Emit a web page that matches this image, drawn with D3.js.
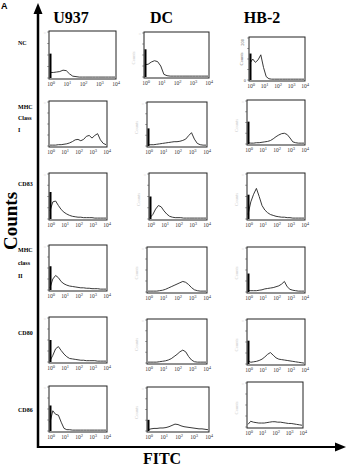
<!DOCTYPE html>
<html>
<head>
<meta charset="utf-8">
<script src="https://cdn.jsdelivr.net/npm/d3@7/dist/d3.min.js"></script>
<style>
  body { margin: 0; background: #fff; }
  svg text { font-family: "Liberation Serif", "Times New Roman", serif; }
</style>
</head>
<body>
<div id="chart"></div>
<script>
//////////////////////////////////////////////////////////////////////////////
// Data (counts in % of the panel height)

var cellLines = ["U937", "DC", "HB-2"];
var markers   = ["NC", "MHC Class I", "CD83", "MHC class II", "CD80", "CD86"];
var markerLines = [["NC"], ["MHC", "Class", "I"], ["CD83"], ["MHC", "class", "II"], ["CD80"], ["CD86"]];
var decades   = [0, 1, 2, 3, 4];
var channels  = [0, 0.2, 0.4, 0.6, 0.8, 1.0, 1.2, 1.4, 1.6, 1.8, 2.0,
                 2.2, 2.4, 2.6, 2.8, 3.0, 3.2, 3.4, 3.6, 3.8, 4.0];

// one array per marker, one row per cell line (U937, DC, HB-2)
var ncCounts = [
  [12, 12, 13, 14, 17, 16, 9, 4, 3, 2, 2, 2, 2, 2, 2, 2, 2, 2, 2, 2, 2],
  [28, 29, 34, 37, 35, 25, 6, 3, 2, 2, 2, 2, 2, 2, 2, 2, 2, 2, 2, 2, 2],
  [40, 50, 42, 48, 60, 30, 8, 3, 2, 2, 2, 2, 2, 2, 2, 2, 2, 2, 2, 2, 2]
];
var mhc1Counts = [
  [2, 2, 2, 3, 3, 4, 5, 7, 10, 14, 15, 12, 15, 22, 24, 18, 24, 28, 14, 6, 3],
  [3, 3, 3, 4, 5, 6, 7, 8, 9, 10, 10, 11, 13, 16, 24, 31, 16, 6, 3, 2, 2],
  [3, 2, 2, 3, 3, 4, 5, 6, 8, 12, 17, 21, 24, 25, 22, 14, 5, 3, 2, 2, 2]
];
var cd83Counts = [
  [18, 38, 40, 30, 21, 15, 11, 8, 6, 5, 4, 4, 3, 3, 3, 3, 2, 2, 2, 2, 2],
  [3, 10, 22, 30, 27, 18, 11, 6, 4, 3, 3, 3, 2, 2, 2, 2, 2, 2, 2, 2, 2],
  [10, 38, 55, 68, 50, 30, 20, 14, 10, 8, 6, 5, 4, 4, 3, 3, 2, 2, 2, 2, 2]
];
var mhc2Counts = [
  [5, 25, 33, 28, 19, 14, 11, 9, 8, 7, 6, 5, 5, 4, 4, 3, 3, 3, 2, 2, 2],
  [2, 2, 2, 2, 3, 4, 6, 9, 12, 15, 18, 21, 24, 22, 17, 10, 5, 3, 2, 2, 2],
  [4, 3, 3, 3, 4, 5, 7, 8, 9, 10, 12, 14, 18, 24, 12, 6, 4, 3, 2, 2, 2]
];
var cd80Counts = [
  [3, 15, 30, 35, 26, 18, 12, 8, 7, 6, 5, 4, 4, 3, 3, 3, 3, 2, 2, 2, 2],
  [2, 2, 2, 2, 3, 4, 5, 7, 10, 15, 20, 26, 30, 26, 15, 7, 3, 2, 2, 2, 2],
  [8, 4, 5, 6, 8, 11, 16, 22, 26, 20, 14, 11, 10, 9, 8, 7, 6, 5, 4, 3, 2]
];
var cd86Counts = [
  [20, 46, 38, 36, 20, 6, 3, 3, 2, 2, 2, 2, 2, 2, 2, 2, 2, 2, 2, 2, 2],
  [3, 5, 6, 6, 7, 7, 8, 10, 13, 16, 15, 12, 10, 9, 8, 7, 6, 5, 5, 4, 3],
  [6, 13, 11, 10, 9, 9, 9, 10, 11, 12, 12, 11, 11, 10, 9, 8, 8, 7, 6, 5, 4]
];
var countsByMarker = [ncCounts, mhc1Counts, cd83Counts, mhc2Counts, cd80Counts, cd86Counts];

// height of the first-channel spike, per marker and cell line (0 = none)
var spikeHeights = [
  [53, 63, 63],
  [0, 41, 52],
  [60, 50, 54],
  [54, 0, 42],
  [50, 0, 53],
  [58, 26, 0]
];

//////////////////////////////////////////////////////////////////////////////
// Layout

var width = 349, height = 466;

// panel frames [x0, y0, x1, y1], per marker row, per cell line
var frames = [
  [[49, 31, 116, 79], [144, 32, 209, 78], [249, 37, 305, 81]],
  [[49, 101, 107, 147], [147, 102, 207, 147], [247, 100, 305, 145]],
  [[49, 173, 107, 220], [149, 173, 207, 220], [247, 173, 305, 220]],
  [[49, 245, 107, 291], [147, 247, 207, 293], [247, 247, 305, 293]],
  [[49, 317, 107, 363], [147, 319, 207, 364], [247, 319, 305, 365]],
  [[49, 386, 107, 432], [147, 387, 209, 432], [247, 382, 303, 428]]
];
var titleX = [71, 161.5, 262];
var labelY = [[45], [109, 120, 132], [186], [252, 265, 278], [335], [412]];

var svg = d3.select("#chart")
    .append("svg")
    .attr("width", width)
    .attr("height", height);

// big axes with arrows
var axisX = 38, axisY = 447;
svg.append("line")
    .attr("x1", axisX).attr("y1", 11)
    .attr("x2", axisX).attr("y2", axisY + 1)
    .attr("stroke", "#000").attr("stroke-width", 2.5);
svg.append("path")
    .attr("d", "M" + axisX + ",3 L" + (axisX - 4.5) + ",14 L" + (axisX + 4.5) + ",14 Z")
    .attr("fill", "#000");
svg.append("line")
    .attr("x1", axisX - 1).attr("y1", axisY)
    .attr("x2", 337).attr("y2", axisY)
    .attr("stroke", "#000").attr("stroke-width", 2.2);
svg.append("path")
    .attr("d", "M346," + axisY + " L335," + (axisY - 4.5) + " L335," + (axisY + 4.5) + " Z")
    .attr("fill", "#000");

svg.append("text")
    .attr("x", 1).attr("y", 9)
    .style("font-family", "Liberation Sans, Arial, sans-serif")
    .attr("font-size", 9).attr("font-weight", "bold")
    .text("A");

svg.append("text")
    .attr("transform", "translate(17,221) rotate(-90)")
    .attr("text-anchor", "middle")
    .attr("font-size", 19).attr("font-weight", "bold")
    .text("Counts");

svg.append("text")
    .attr("x", 162).attr("y", 464)
    .attr("text-anchor", "middle")
    .attr("font-size", 16).attr("font-weight", "bold")
    .text("FITC");

svg.selectAll(".col-title")
    .data(cellLines)
    .enter()
    .append("text")
    .attr("class", "col-title")
    .attr("x", function(d, i) { return titleX[i]; })
    .attr("y", 23)
    .attr("text-anchor", "middle")
    .attr("font-size", 16).attr("font-weight", "bold")
    .text(function(d) { return d; });

// row labels
markerLines.forEach(function(lines, r) {
    svg.append("g")
        .selectAll("text")
        .data(lines)
        .enter()
        .append("text")
        .attr("x", 18)
        .attr("y", function(d, k) { return labelY[r][k]; })
        .attr("font-size", 6).attr("font-weight", "bold")
        .text(function(d) { return d; });
});

//////////////////////////////////////////////////////////////////////////////
// Histogram panels

function drawPanel(g, box, counts, spike, r, c) {
    var x0 = box[0], y0 = box[1], x1 = box[2], y1 = box[3];
    var x = d3.scaleLinear().domain([0, 4]).range([x0 + 1, x1 - 1]);
    var y = d3.scaleLinear().domain([0, 100]).range([y1 - 1, y0 + 1]);

    // faint count ticks on the left edge
    var yTicks = [0, 25, 50, 75, 100];
    g.selectAll(".ytick")
        .data(yTicks)
        .enter()
        .append("line")
        .attr("x1", x0 - 2).attr("x2", x0)
        .attr("y1", function(d) { return y(d); })
        .attr("y2", function(d) { return y(d); })
        .attr("stroke", "#888").attr("stroke-width", 0.7);

    if (r === 0 && c === 2) {
        g.append("text").attr("x", x0 - 3).attr("y", y0 + 4)
            .attr("text-anchor", "end").attr("font-size", 4.5).attr("fill", "#555")
            .attr("transform", "rotate(-90," + (x0 - 5) + "," + (y0 + 4) + ")")
            .text("200");
        g.append("text").attr("x", x0 - 3).attr("y", y1 + 1)
            .attr("text-anchor", "end").attr("font-size", 4.5).attr("fill", "#555")
            .text("0");
        g.append("text")
            .attr("transform", "translate(" + (x0 - 6) + "," + ((y0 + y1) / 2) + ") rotate(-90)")
            .attr("text-anchor", "middle").attr("font-size", 4.5).attr("fill", "#777")
            .text("Counts");
    } else if (c > 0) {
        g.append("text")
            .attr("transform", "translate(" + (x0 - 9) + "," + ((y0 + y1) / 2 + 3) + ") rotate(-90)")
            .attr("text-anchor", "middle").attr("font-size", 4.5).attr("fill", "#ccc")
            .text("Counts");
        g.append("text").attr("x", x0 - 3).attr("y", y0 + 3)
            .attr("text-anchor", "end").attr("font-size", 4).attr("fill", "#bbb")
            .text("::");
    } else {
        g.append("text").attr("x", x0 - 3).attr("y", y0 + 3)
            .attr("text-anchor", "end").attr("font-size", 4).attr("fill", "#bbb")
            .text("::");
    }

    g.append("rect")
        .attr("x", x0).attr("y", y0)
        .attr("width", x1 - x0).attr("height", y1 - y0)
        .attr("fill", "none")
        .attr("stroke", "#222").attr("stroke-width", 1);

    var line = d3.line()
        .x(function(d, i) { return x(channels[i]); })
        .y(function(d) { return y(d); });

    g.append("path")
        .datum(counts)
        .attr("d", line)
        .attr("fill", "none")
        .attr("stroke", "#222")
        .attr("stroke-width", 0.9);

    if (spike > 0) {
        g.append("line")
            .attr("x1", x(0) + 0.5).attr("x2", x(0) + 0.5)
            .attr("y1", y(0)).attr("y2", y(spike))
            .attr("stroke", "#000").attr("stroke-width", 2);
    }

    // decade labels 10^0 .. 10^4
    var lab = g.selectAll(".xlab")
        .data(decades)
        .enter()
        .append("text")
        .attr("x", function(d) { return x(d) + 1; })
        .attr("y", y1 + 7)
        .attr("text-anchor", "middle")
        .attr("font-size", 5.5)
        .attr("fill", "#333");
    lab.append("tspan").text("10");
    lab.append("tspan")
        .attr("dy", -2)
        .attr("font-size", 4.5)
        .text(function(d) { return d; });
}

markers.forEach(function(m, r) {
    cellLines.forEach(function(cl, c) {
        var g = svg.append("g").attr("class", "panel");
        drawPanel(g, frames[r][c], countsByMarker[r][c], spikeHeights[r][c], r, c);
    });
});
</script>
</body>
</html>
